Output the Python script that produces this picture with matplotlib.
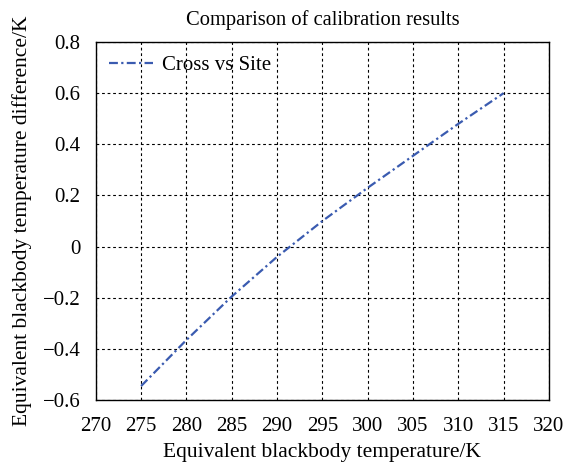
import matplotlib
matplotlib.use('Agg')
import matplotlib.pyplot as plt

plt.rcParams['font.family'] = ['Liberation Serif', 'DejaVu Serif']

temps = [275, 280, 285, 290, 295, 300, 305, 310, 315]
diffs = [-0.545, -0.365, -0.195, -0.04, 0.10, 0.23, 0.355, 0.48, 0.60]
xticks = [270, 275, 280, 285, 290, 295, 300, 305, 310, 315, 320]
yticks = [-0.6, -0.4, -0.2, 0, 0.2, 0.4, 0.6, 0.8]
ytick_labels = ['\u22120.6', '\u22120.4', '\u22120.2', '0', '0.2', '0.4', '0.6', '0.8']

fig = plt.figure(figsize=(5.67, 4.62), dpi=100)
ax = fig.add_axes([0.169, 0.134, 0.799, 0.775])

ax.plot(temps, diffs, color='#3a5bb0', linestyle=(0, (4, 1.5, 1, 1.5)),
        linewidth=1.6, label='Cross vs Site')

ax.set_xlim(270, 320)
ax.set_ylim(-0.6, 0.8)
ax.set_xticks(xticks)
ax.set_yticks(yticks)
ax.set_yticklabels(ytick_labels)
ax.tick_params(axis='x', length=0, labelsize=15, pad=12)
ax.tick_params(axis='y', length=0, labelsize=15, pad=11)
ax.grid(True, color='black', linestyle=(0, (2.5, 2.5)), linewidth=0.8)
for s in ax.spines.values():
    s.set_linewidth(1.0)

ax.set_title('Comparison of calibration results', fontsize=14.8, pad=12)
ax.set_xlabel('Equivalent blackbody temperature/K', fontsize=15.5, labelpad=5)
ax.set_ylabel('Equivalent blackbody temperature difference/K', fontsize=15.5, labelpad=8)

leg = ax.legend(loc='upper left', frameon=False, fontsize=15, handlelength=2.1,
                borderaxespad=0.25, handletextpad=0.45)

fig.savefig('out.png', dpi=100)
